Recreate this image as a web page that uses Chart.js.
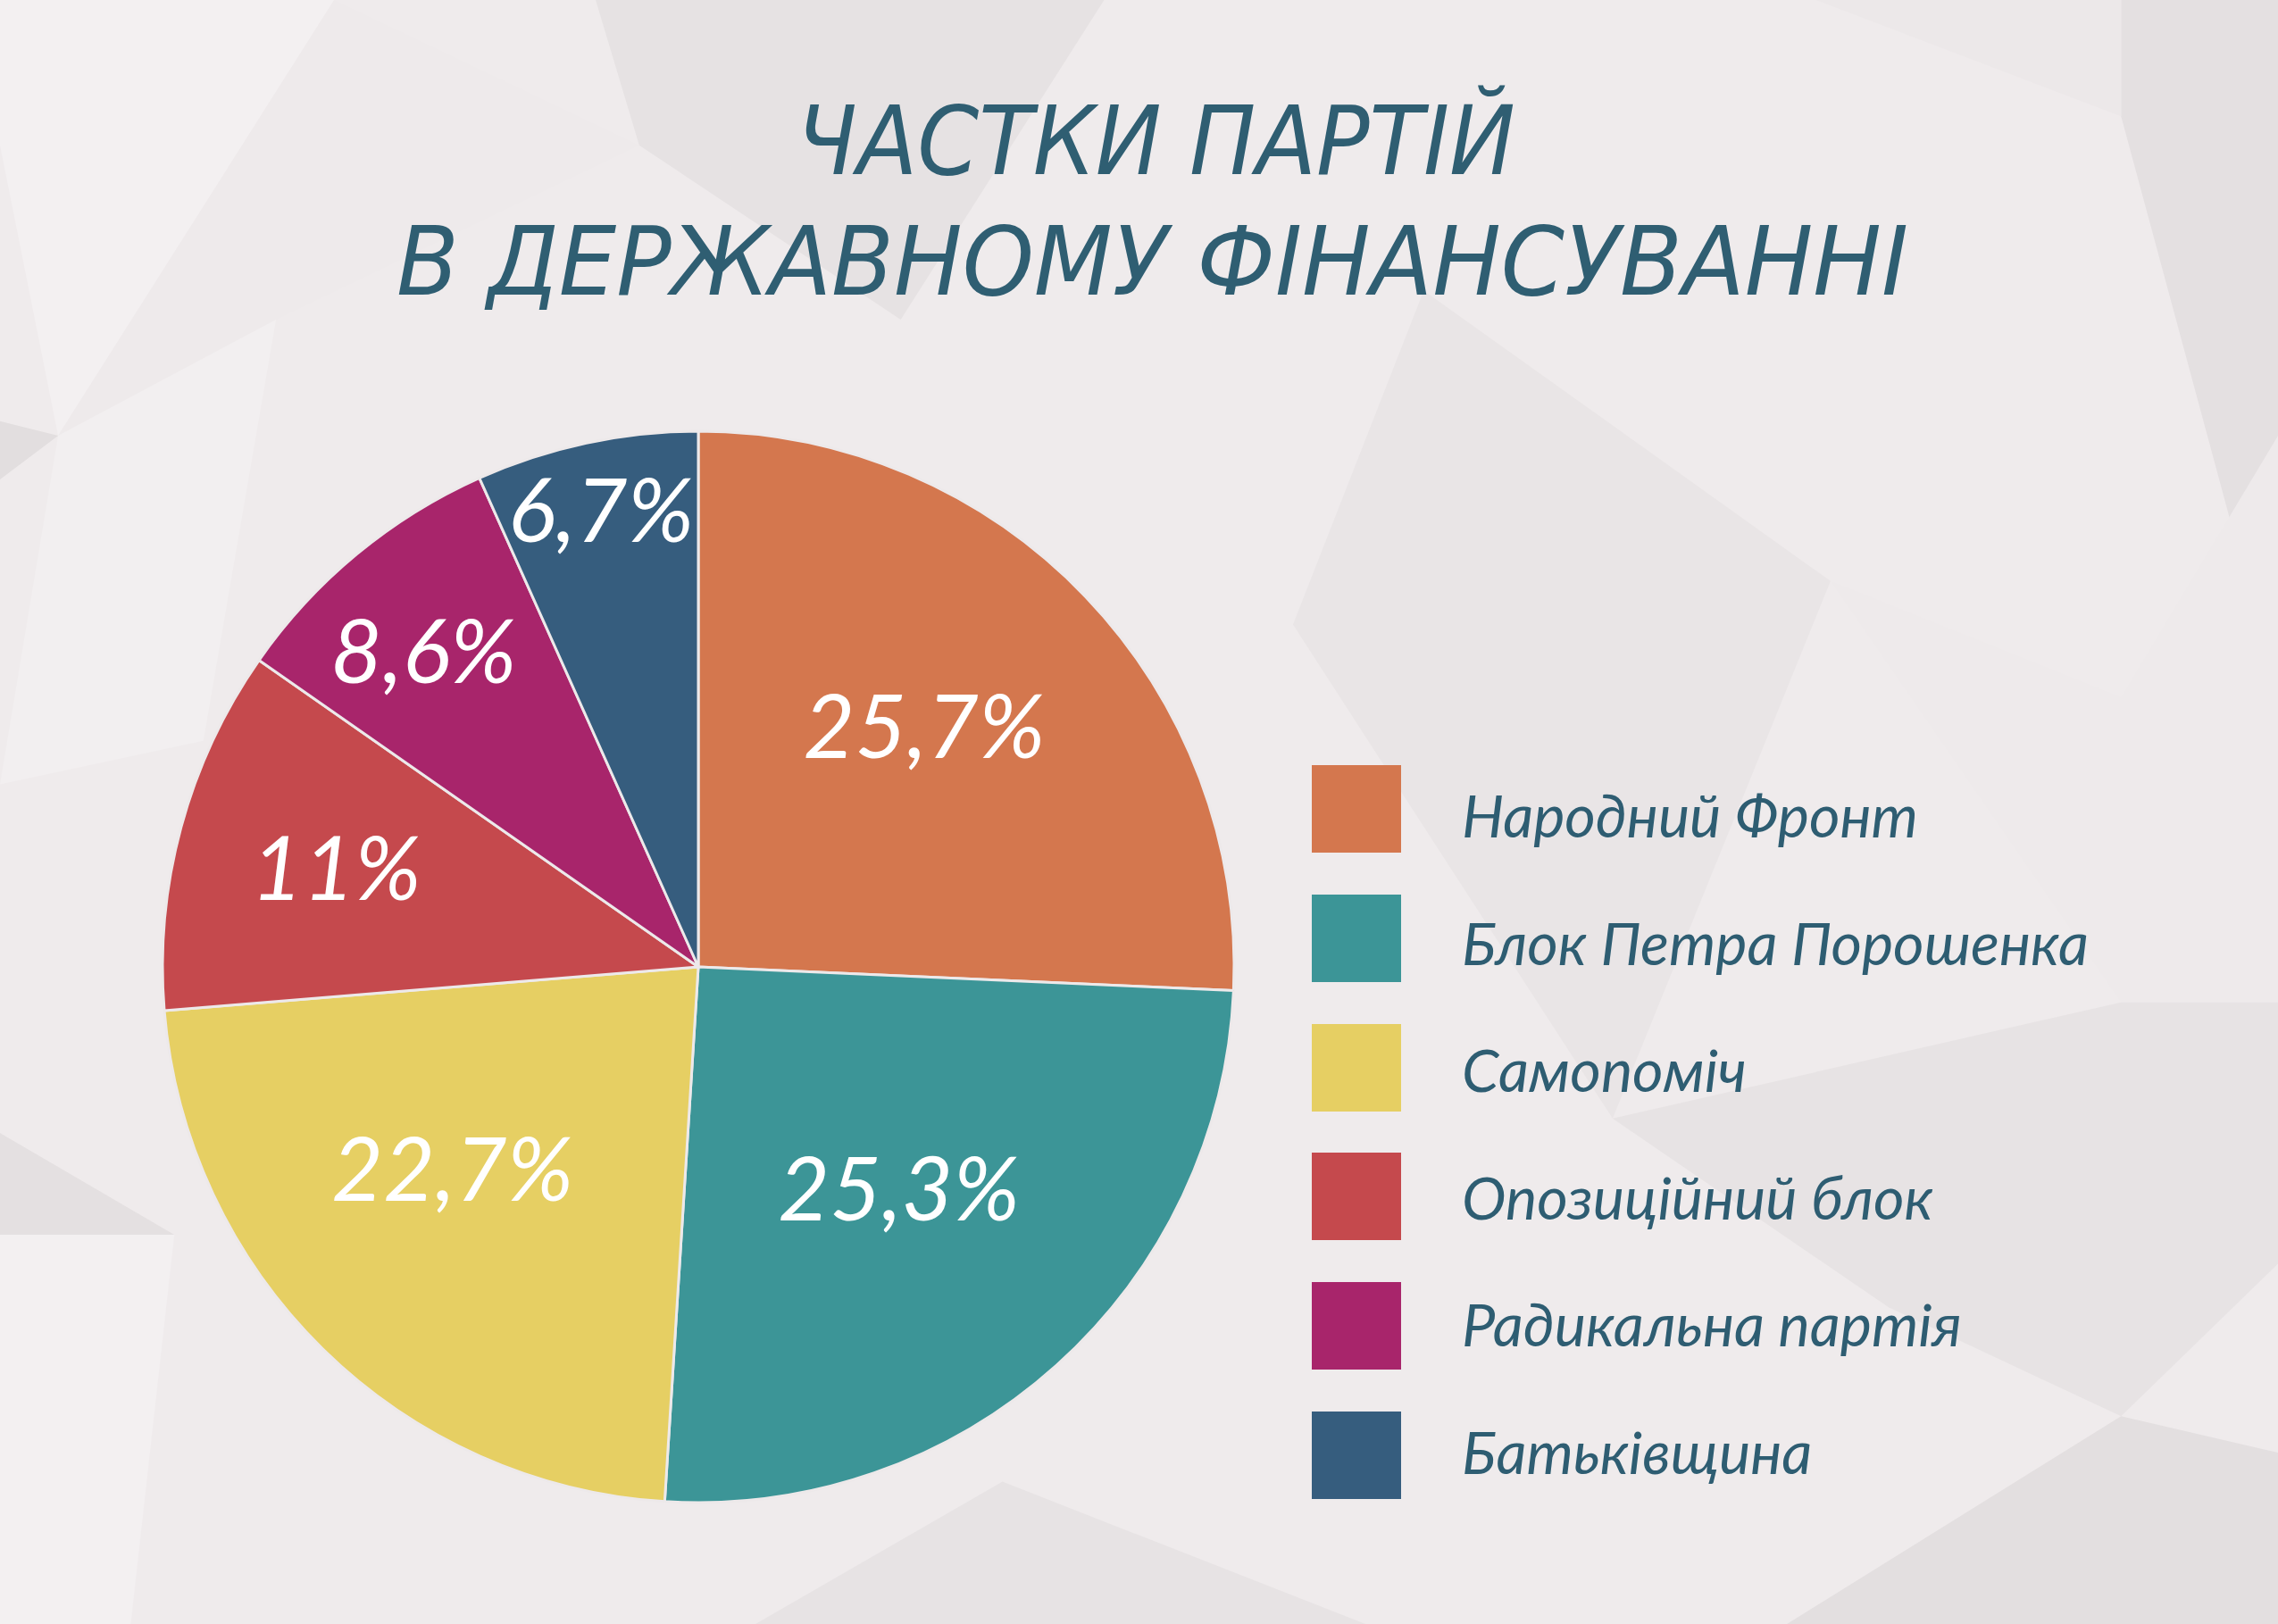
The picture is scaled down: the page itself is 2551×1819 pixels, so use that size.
<!DOCTYPE html>
<html><head><meta charset="utf-8">
<script src="https://cdn.jsdelivr.net/npm/chart.js@4"></script>
<style>
html,body{margin:0;padding:0;width:2551px;height:1819px;overflow:hidden;background:#EFEBEC;}
#bg{position:absolute;left:0;top:0;width:2551px;height:1819px}
#chartBox{position:absolute;left:0;top:0;width:2551px;height:1819px}
.title{position:absolute;left:0;top:0;white-space:nowrap;font-family:"DejaVu Sans Condensed","DejaVu Sans",sans-serif;font-style:oblique;font-weight:normal;color:#2F5E72;font-size:107px;line-height:1;transform-origin:0 0}
.sw{position:absolute;width:100px;height:98px}
.lt{position:absolute;left:1637px;top:0;white-space:nowrap;font-family:Lato,sans-serif;font-style:italic;color:#2E5D72;font-size:66.5px;line-height:1}
</style></head>
<body>
<svg id="bg" viewBox="0 0 1568 1118" preserveAspectRatio="none" xmlns="http://www.w3.org/2000/svg">
<polygon points="410,0 760,0 620,220 440,100" fill="#E6E2E3"/>
<polygon points="0,0 230,0 40,300 0,100" fill="#F3F0F1"/>
<polygon points="230,0 440,100 190,220 40,300" fill="#EEEAEB"/>
<polygon points="1460,0 1568,0 1568,480 1460,80" fill="#E4E0E1"/>
<polygon points="1250,0 1460,0 1460,80" fill="#ECE8E9"/>
<polygon points="980,200 1260,400 1110,770 890,430" fill="#E9E5E6"/>
<polygon points="1260,400 1460,480 1568,300 1568,690 1460,690" fill="#EEEAEB"/>
<polygon points="1230,1118 1460,975 1568,1000 1568,1118" fill="#E3DFE0"/>
<polygon points="1110,770 1460,690 1568,690 1568,870 1460,975 1300,900" fill="#E7E3E4"/>
<polygon points="690,1020 940,1118 520,1118" fill="#E7E3E4"/>
<polygon points="0,780 120,850 0,850" fill="#E4E0E1"/>
<polygon points="0,850 120,850 90,1118 0,1118" fill="#F3F0F1"/>
<polygon points="0,290 40,300 0,330" fill="#E2DEDF"/>
<polygon points="40,300 190,220 140,510 0,540" fill="#F2EFF0"/>
</svg>
<div id="chartBox"><canvas id="c" width="2551" height="1819"></canvas></div>
<div id="overlay"></div>
<script>
// ---- data ----
const titleLines = ["ЧАСТКИ ПАРТІЙ", "В ДЕРЖАВНОМУ ФІНАНСУВАННІ"];
const categories = ["Народний Фронт", "Блок Петра Порошенка", "Самопоміч", "Опозиційний блок", "Радикальна партія", "Батьківщина"];
const shares = [25.7, 25.3, 22.7, 11, 8.6, 6.7];
const shareLabels = ["25,7%", "25,3%", "22,7%", "11%", "8,6%", "6,7%"];
const colors = ["#D4774E", "#3C9597", "#E6CF63", "#C5494D", "#A8256B", "#365D7E"];

// ---- style / layout ----
const labelRadiusFrac = [0.615, 0.56, 0.595, 0.70, 0.78, 0.87];
const labelAngleShiftDeg = [-3, 0, 6, 0, -1.5, 0];

const sliceLabels = {
  id: 'sliceLabels',
  afterDatasetsDraw(chart) {
    const ctx = chart.ctx;
    const meta = chart.getDatasetMeta(0);
    ctx.save();
    ctx.fillStyle = '#FFFFFF';
    ctx.font = 'italic 100px Lato';
    ctx.textAlign = 'center';
    ctx.textBaseline = 'middle';
    meta.data.forEach((arc, i) => {
      const p = arc.getProps(['x','y','startAngle','endAngle','outerRadius'], true);
      const mid = (p.startAngle + p.endAngle) / 2 + labelAngleShiftDeg[i] * Math.PI / 180;
      const r = p.outerRadius * labelRadiusFrac[i];
      ctx.fillText(shareLabels[i], p.x + Math.cos(mid) * r, p.y + Math.sin(mid) * r + 2);
    });
    ctx.restore();
  }
};

function build() {
  new Chart(document.getElementById('c'), {
    type: 'pie',
    data: {
      labels: categories,
      datasets: [{
        data: shares,
        backgroundColor: colors,
        borderColor: '#EDE9EA',
        borderWidth: 3,
        hoverOffset: 0
      }]
    },
    options: {
      responsive: false,
      animation: false,
      radius: 600,
      layout: { padding: { left: 0, right: 987, top: 347, bottom: 0 } },
      plugins: { legend: { display: false }, tooltip: { enabled: false }, title: { display: false } }
    },
    plugins: [sliceLabels]
  });

  const ov = document.getElementById('overlay');
  function placeBaseline(el, baselineY) {
    const m = document.createElement('span');
    m.style.cssText = 'display:inline-block;width:0;height:0;vertical-align:baseline';
    el.appendChild(m);
    const r = m.getBoundingClientRect();
    el.style.top = (baselineY - r.top) + 'px';
  }
  const titleGeom = [{cx: 1294, w: 805, base: 195}, {cx: 1290, w: 1693, base: 330}];
  titleLines.forEach((t, i) => {
    const d = document.createElement('div');
    d.className = 'title';
    d.textContent = t;
    ov.appendChild(d);
    const w = d.getBoundingClientRect().width;
    const s = titleGeom[i].w / w;
    d.style.left = (titleGeom[i].cx - titleGeom[i].w / 2) + 'px';
    d.style.transform = 'scaleX(' + s + ')';
    placeBaseline(d, titleGeom[i].base);
  });
  categories.forEach((name, i) => {
    const top = 857 + i * 144.8;
    const sw = document.createElement('div');
    sw.className = 'sw';
    sw.style.left = '1469px';
    sw.style.top = top + 'px';
    sw.style.background = colors[i];
    ov.appendChild(sw);
    const t = document.createElement('div');
    t.className = 'lt';
    t.textContent = name;
    ov.appendChild(t);
    placeBaseline(t, 938 + i * 142.5);
  });
}
if (document.fonts && document.fonts.load) {
  Promise.all([document.fonts.load('italic 100px Lato'), document.fonts.load('oblique 107px "DejaVu Sans Condensed"')]).then(build, build);
} else build();
</script>
</body></html>
